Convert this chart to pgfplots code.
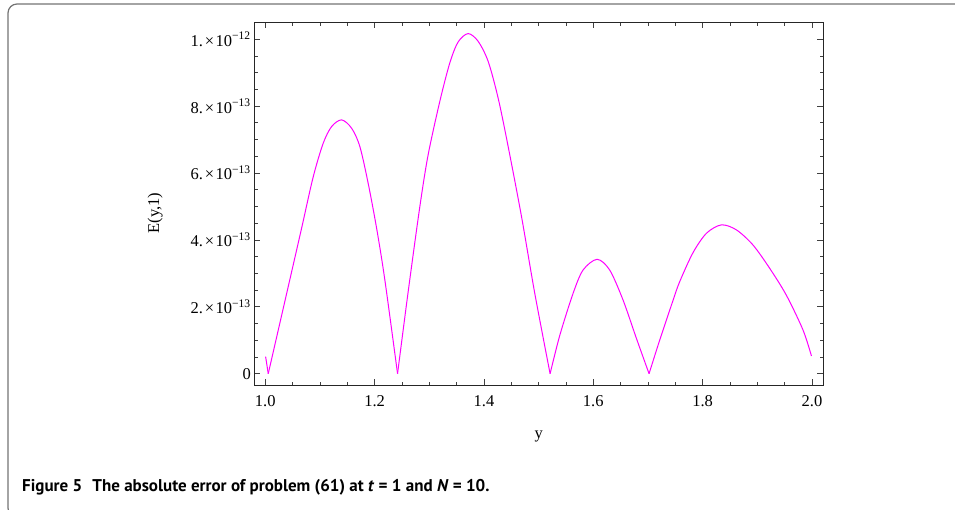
\documentclass[border=0pt]{standalone}
\usepackage{pgfplots}
\pgfplotsset{compat=1.18}
\usepackage{pgfplotstable}
\usepackage{fontspec}
\setmainfont{Liberation Serif}
\newfontfamily\capfont{PT Sans}
\definecolor{mag}{RGB}{255,0,255}
% values in units of 1e-13, one table per arch
\pgfplotstableread{
x y
1.0007 0.51
1.0055 0
}\archA
\pgfplotstableread{
x y
1.0055 0
1.042 2.60
1.0665 4.35
1.0878 5.89
1.106 6.89
1.1214 7.39
1.1397 7.59
1.158 7.34
1.1731 6.79
1.1883 5.69
1.2037 4.35
1.2188 2.80
1.242 0
}\archB
\pgfplotstableread{
x y
1.242 0
1.2614 2.45
1.2828 5.00
1.298 6.55
1.3194 8.15
1.3377 9.30
1.3528 9.92
1.3711 10.17
1.3894 9.94
1.4077 9.34
1.426 8.24
1.4442 6.80
1.4687 4.70
1.493 2.40
1.521 0
}\archC
\pgfplotstableread{
x y
1.521 0
1.5388 1.15
1.563 2.40
1.5813 3.10
1.607 3.42
1.630 3.10
1.6545 2.20
1.679 1.05
1.702 0
}\archD
\pgfplotstableread{
x y
1.702 0
1.7216 1.01
1.746 2.20
1.758 2.75
1.7824 3.62
1.807 4.20
1.8344 4.45
1.8618 4.30
1.892 3.85
1.9227 3.15
1.953 2.35
1.9835 1.31
1.999 0.53
}\archE
\begin{document}
\begin{tikzpicture}
\useasboundingbox (0pt,0pt) rectangle (955pt,509pt);
\clip (0pt,0pt) rectangle (955pt,509pt);
\draw[black!55, line width=1.2pt, rounded corners=9pt] (8pt,505pt) rectangle (975pt,-8pt);
\begin{axis}[
  at={(254.3pt,124pt)}, anchor=south west, scale only axis,
  width=569pt, height=362.7pt,
  xmin=0.98, xmax=2.0207, ymin=-0.338, ymax=10.508,
  xtick={1,1.2,1.4,1.6,1.8,2},
  xticklabels={1.0,1.2,1.4,1.6,1.8,2.0},
  minor x tick num=3,
  ytick={0,2,4,6,8,10},
  yticklabels={0,
    2.\kern2pt×\kern1.5pt10\textsuperscript{−13},
    4.\kern2pt×\kern1.5pt10\textsuperscript{−13},
    6.\kern2pt×\kern1.5pt10\textsuperscript{−13},
    8.\kern2pt×\kern1.5pt10\textsuperscript{−13},
    1.\kern2pt×\kern1.5pt10\textsuperscript{−12}},
  minor y tick num=3,
  tick align=inside,
  major tick length=6pt, minor tick length=3.5pt,
  every tick/.style={black!75, line width=0.8pt},
  axis line style={black!85, line width=1pt},
  ticklabel style={font=\fontsize{16.5}{18}\selectfont},
  xticklabel style={yshift=-7pt},
  xlabel={y}, ylabel={E(y,1)},
  every axis x label/.style={at={(axis description cs:0.5,-0.143)}, anchor=center, font=\fontsize{16.5}{18}\selectfont},
  every axis y label/.style={at={(axis description cs:-0.174,0.474)}, anchor=center, rotate=90, font=\fontsize{16.5}{18}\selectfont},
]
\addplot[mag, line width=1pt] table[x=x,y=y] {\archA};
\addplot[mag, line width=1pt, smooth, tension=0.5] table[x=x,y=y] {\archB};
\addplot[mag, line width=1pt, smooth, tension=0.5] table[x=x,y=y] {\archC};
\addplot[mag, line width=1pt, smooth, tension=0.5] table[x=x,y=y] {\archD};
\addplot[mag, line width=1pt, smooth, tension=0.5] table[x=x,y=y] {\archE};
\end{axis}
\node[anchor=base west, inner sep=0] at (22pt,18pt) {\capfont\bfseries\fontsize{17}{20}\selectfont Figure 5\hspace{0.6em}The absolute error of problem (61) at \textit{t} = 1 and \textit{N} = 10.};
\end{tikzpicture}
\end{document}
